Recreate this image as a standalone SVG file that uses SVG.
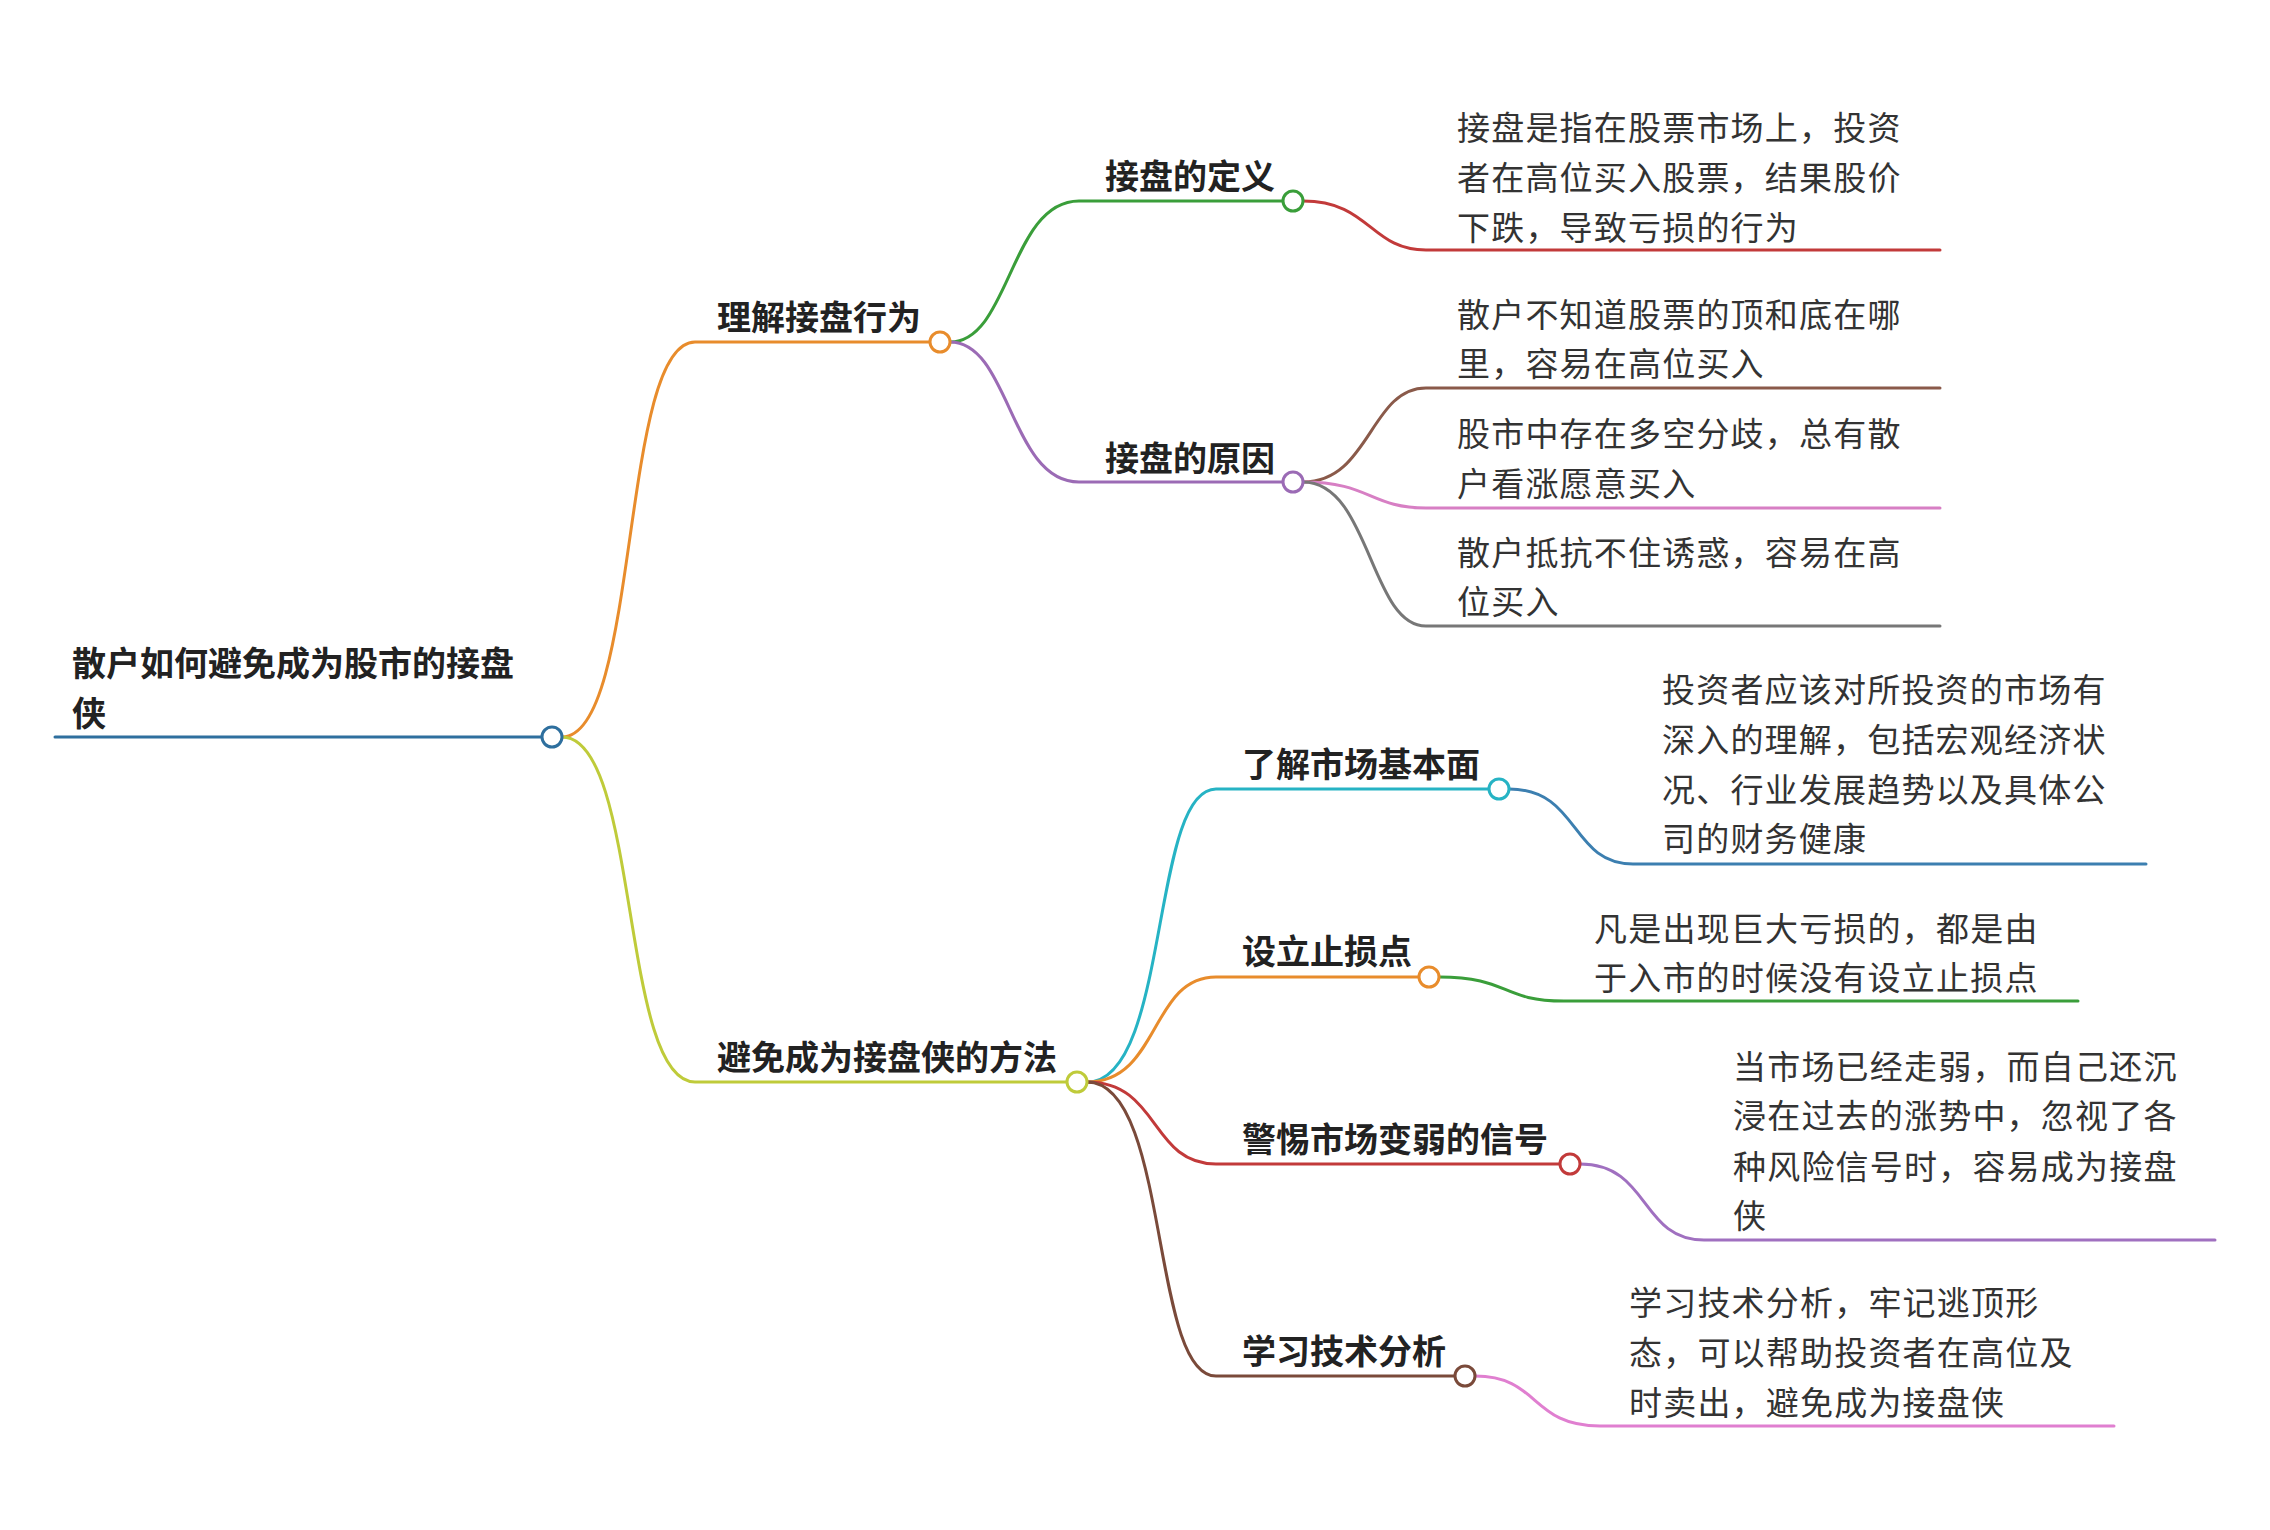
<svg xmlns="http://www.w3.org/2000/svg" width="2270" height="1530" viewBox="0 0 2270 1530">
<style>
.c{fill:none;stroke-width:3;stroke-linecap:round}
.n{fill:#fff;stroke-width:3}
text{font-family:"Noto Sans CJK SC","Noto Sans",sans-serif;fill:#222}
.r{font-size:34px;font-weight:bold}
.b{font-size:34px;font-weight:bold}
.l{font-size:33px;letter-spacing:1.2px;fill:#333}
</style>
<rect width="2270" height="1530" fill="#fff"/>
<g id="connectors">
<path class="c" stroke="#2e6f9e" d="M55 737H542"/>
<path class="c" stroke="#e88c2c" d="M562 737C640 737 620 342 695 342H931"/>
<path class="c" stroke="#bfcb3a" d="M562 737C640 737 620 1082 695 1082H1067"/>
<path class="c" stroke="#3a9e3a" d="M950 342C1010 342 1010 201 1079 201H1283"/>
<path class="c" stroke="#9b6bb5" d="M950 342C1010 342 1010 482 1079 482H1283"/>
<path class="c" stroke="#c23a3a" d="M1303 201C1370 201 1370 250 1426 250H1940"/>
<path class="c" stroke="#8a5a4a" d="M1303 482C1370 482 1370 388 1426 388H1940"/>
<path class="c" stroke="#d77fc4" d="M1303 482C1370 482 1370 508 1426 508H1940"/>
<path class="c" stroke="#777" d="M1303 482C1370 482 1370 626 1426 626H1940"/>
<path class="c" stroke="#26b3c4" d="M1087 1082C1170 1082 1150 789 1216 789H1489"/>
<path class="c" stroke="#e88c2c" d="M1087 1082C1160 1082 1150 977 1216 977H1419"/>
<path class="c" stroke="#c23a3a" d="M1087 1082C1160 1082 1150 1164 1216 1164H1560"/>
<path class="c" stroke="#7a4a3a" d="M1087 1082C1170 1082 1150 1376 1216 1376H1455"/>
<path class="c" stroke="#3c7fb0" d="M1509 789C1580 789 1570 864 1633 864H2146"/>
<path class="c" stroke="#3a9e3a" d="M1439 977C1510 977 1500 1001 1564 1001H2078"/>
<path class="c" stroke="#a070c0" d="M1580 1164C1650 1164 1640 1240 1704 1240H2215"/>
<path class="c" stroke="#e07fd0" d="M1475 1376C1540 1376 1530 1426 1600 1426H2114"/>
</g>
<g id="root"><text class="r" x="72" y="676">散户如何避免成为股市的接盘</text><text class="r" x="72" y="726">侠</text><circle class="n" stroke="#2e6f9e" cx="552" cy="737" r="10"/></g>
<g id="n1"><text class="b" x="717" y="330">理解接盘行为</text><circle class="n" stroke="#e88c2c" cx="940" cy="342" r="10"/></g>
<g id="n11"><text class="b" x="1105" y="189">接盘的定义</text><circle class="n" stroke="#3a9e3a" cx="1293" cy="201" r="10"/></g>
<g id="n12"><text class="b" x="1105" y="471">接盘的原因</text><circle class="n" stroke="#9b6bb5" cx="1293" cy="482" r="10"/></g>
<g id="l111"><text class="l" x="1457" y="140">接盘是指在股票市场上，投资</text><text class="l" x="1457" y="190">者在高位买入股票，结果股价</text><text class="l" x="1457" y="240">下跌，导致亏损的行为</text></g>
<g id="l121"><text class="l" x="1457" y="327">散户不知道股票的顶和底在哪</text><text class="l" x="1457" y="376">里，容易在高位买入</text></g>
<g id="l122"><text class="l" x="1457" y="446">股市中存在多空分歧，总有散</text><text class="l" x="1457" y="496">户看涨愿意买入</text></g>
<g id="l123"><text class="l" x="1457" y="565">散户抵抗不住诱惑，容易在高</text><text class="l" x="1457" y="614">位买入</text></g>
<g id="n2"><text class="b" x="717" y="1070">避免成为接盘侠的方法</text><circle class="n" stroke="#bfcb3a" cx="1077" cy="1082" r="10"/></g>
<g id="n21"><text class="b" x="1242" y="777">了解市场基本面</text><circle class="n" stroke="#26b3c4" cx="1499" cy="789" r="10"/></g>
<g id="n22"><text class="b" x="1242" y="964">设立止损点</text><circle class="n" stroke="#e88c2c" cx="1429" cy="977" r="10"/></g>
<g id="n23"><text class="b" x="1242" y="1152">警惕市场变弱的信号</text><circle class="n" stroke="#c23a3a" cx="1570" cy="1164" r="10"/></g>
<g id="n24"><text class="b" x="1242" y="1364">学习技术分析</text><circle class="n" stroke="#7a4a3a" cx="1465" cy="1376" r="10"/></g>
<g id="l211"><text class="l" x="1662" y="702">投资者应该对所投资的市场有</text><text class="l" x="1662" y="752">深入的理解，包括宏观经济状</text><text class="l" x="1662" y="802">况、行业发展趋势以及具体公</text><text class="l" x="1662" y="851">司的财务健康</text></g>
<g id="l221"><text class="l" x="1594" y="941">凡是出现巨大亏损的，都是由</text><text class="l" x="1594" y="990">于入市的时候没有设立止损点</text></g>
<g id="l231"><text class="l" x="1733" y="1079">当市场已经走弱，而自己还沉</text><text class="l" x="1733" y="1128">浸在过去的涨势中，忽视了各</text><text class="l" x="1733" y="1179">种风险信号时，容易成为接盘</text><text class="l" x="1733" y="1228">侠</text></g>
<g id="l241"><text class="l" x="1629" y="1315">学习技术分析，牢记逃顶形</text><text class="l" x="1629" y="1365">态，可以帮助投资者在高位及</text><text class="l" x="1629" y="1415">时卖出，避免成为接盘侠</text></g>
</svg>
